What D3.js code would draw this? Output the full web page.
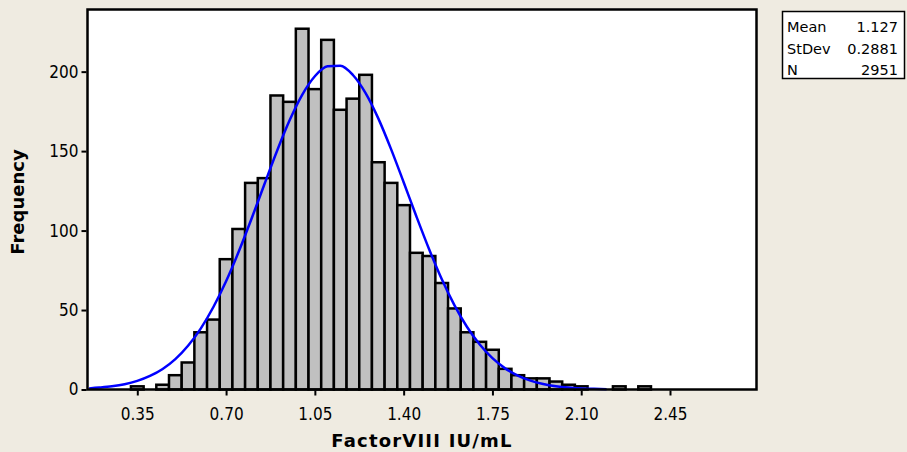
<!DOCTYPE html>
<html lang="en">
<head>
<meta charset="UTF-8">
<title>FactorVIII histogram</title>
<script src="https://d3js.org/d3.v7.min.js"></script>
<style>
body { margin: 0; background: #efebe1; }
svg { display: block; }
.tick text { font-family: "DejaVu Sans Condensed", "DejaVu Sans", sans-serif; font-size: 17px; fill: #000; }
.title { font-family: "DejaVu Sans", sans-serif; font-weight: bold; font-size: 18px; }
.stats { font-family: "DejaVu Sans", sans-serif; font-size: 14.5px; }
</style>
</head>
<body>
<div id="chart"></div>
<script>

// bin midpoints (width 0.05) and counts
var binMids = [0.35, 0.40, 0.45, 0.50, 0.55, 0.60, 0.65, 0.70, 0.75, 0.80,
               0.85, 0.90, 0.95, 1.00, 1.05, 1.10, 1.15, 1.20, 1.25, 1.30,
               1.35, 1.40, 1.45, 1.50, 1.55, 1.60, 1.65, 1.70, 1.75, 1.80,
               1.85, 1.90, 1.95, 2.00, 2.05, 2.10, 2.15, 2.20, 2.25, 2.30, 2.35];
var counts  = [2, 0, 3, 9, 17, 36, 44, 82, 101, 130,
               133, 185, 181, 227, 189, 220, 176, 183, 198, 143,
               130, 116, 86, 84, 67, 51, 36, 30, 25, 13,
               9, 7, 7, 5, 3, 2, 0, 0, 2, 0, 2];
var binWidth = 0.05;

// fitted normal curve (blue)
var curveX = [0.16, 0.20, 0.25, 0.30, 0.35, 0.40, 0.45, 0.50, 0.55, 0.60,
              0.65, 0.70, 0.75, 0.80, 0.85, 0.90, 0.95, 1.00, 1.05, 1.10,
              1.15, 1.20, 1.25, 1.30, 1.35, 1.40, 1.45, 1.50, 1.55, 1.60,
              1.65, 1.70, 1.75, 1.80, 1.85, 1.90, 1.95, 2.00, 2.05, 2.10,
              2.15, 2.20];
var curveY = [0.7, 1.2, 2.0, 3.3, 5.4, 8.5, 12.9, 19.1, 27.5, 38.3,
              51.9, 68.1, 86.8, 107.3, 128.7, 149.8, 169.2, 185.4, 197.1, 203.4,
              203.7, 197.9, 186.5, 170.6, 151.4, 130.4, 109.0, 88.4, 69.5, 53.1,
              39.3, 28.3, 19.7, 13.3, 8.8, 5.6, 3.5, 2.1, 1.2, 0.7,
              0.4, 0.2];

var xTicks = [0.35, 0.70, 1.05, 1.40, 1.75, 2.10, 2.45];
var yTicks = [0, 50, 100, 150, 200];

var statLabels = ["Mean", "StDev", "N"];
var statValues = ["1.127", "0.2881", "2951"];

var W = 907, H = 452;
var plot = {left: 87.5, top: 9.5, right: 756.5, bottom: 389.5};

var x = d3.scaleLinear().domain([0.1537, 2.791]).range([plot.left, plot.right]);
var y = d3.scaleLinear().domain([0, 239.1]).range([plot.bottom, plot.top]);

var svg = d3.select("#chart").append("svg")
    .attr("width", W)
    .attr("height", H);

svg.append("rect")
    .attr("width", W).attr("height", H)
    .attr("fill", "#efebe1");

// plot area
svg.append("rect")
    .attr("x", plot.left).attr("y", plot.top)
    .attr("width", plot.right - plot.left)
    .attr("height", plot.bottom - plot.top)
    .attr("fill", "#fff");

var bins = binMids.map(function(m, i) { return {mid: m, n: counts[i]}; })
    .filter(function(d) { return d.n > 0; });

svg.selectAll(".bar")
    .data(bins)
    .enter().append("rect")
    .attr("class", "bar")
    .attr("x", function(d) { return x(d.mid - binWidth / 2); })
    .attr("width", function(d) { return x(d.mid + binWidth / 2) - x(d.mid - binWidth / 2); })
    .attr("y", function(d) { return y(d.n); })
    .attr("height", function(d) { return y(0) - y(d.n); })
    .attr("fill", "#c0c0c0")
    .attr("stroke", "#000")
    .attr("stroke-width", 2.5);

var line = d3.line()
    .x(function(d, i) { return x(curveX[i]); })
    .y(function(d) { return y(d); })
    .curve(d3.curveMonotoneX);

svg.append("path")
    .datum(curveY)
    .attr("d", line)
    .attr("fill", "none")
    .attr("stroke", "#0000ff")
    .attr("stroke-width", 2.5);

// frame
svg.append("rect")
    .attr("x", plot.left).attr("y", plot.top)
    .attr("width", plot.right - plot.left)
    .attr("height", plot.bottom - plot.top)
    .attr("fill", "none")
    .attr("stroke", "#000")
    .attr("stroke-width", 2.5);

// axes
var xAxis = svg.append("g")
    .attr("transform", "translate(0," + (plot.bottom + 1) + ")")
    .call(d3.axisBottom(x).tickValues(xTicks).tickFormat(d3.format(".2f")).tickSize(5).tickPadding(12));
var yAxis = svg.append("g")
    .attr("transform", "translate(" + (plot.left - 1) + ",0)")
    .call(d3.axisLeft(y).tickValues(yTicks).tickSize(5).tickPadding(3));

[xAxis, yAxis].forEach(function(g) {
    g.select(".domain").remove();
    g.selectAll(".tick line").attr("stroke", "#000").attr("stroke-width", 2);
    g.attr("font-family", null).attr("font-size", null);
});

svg.append("text")
    .attr("class", "title")
    .attr("x", (plot.left + plot.right) / 2)
    .attr("y", 447)
    .attr("text-anchor", "middle")
    .attr("letter-spacing", 1.2)
    .text("FactorVIII IU/mL");

svg.append("text")
    .attr("class", "title")
    .attr("transform", "translate(24,202) rotate(-90)")
    .attr("text-anchor", "middle")
    .text("Frequency");

// stats box
var box = svg.append("g");
box.append("rect")
    .attr("x", 782.5).attr("y", 11.5)
    .attr("width", 122).attr("height", 67)
    .attr("fill", "#fff")
    .attr("stroke", "#000")
    .attr("stroke-width", 1.5);

box.selectAll(".slab")
    .data(statLabels)
    .enter().append("text")
    .attr("class", "stats")
    .attr("x", 787)
    .attr("y", function(d, i) { return 32 + i * 21.5; })
    .text(function(d) { return d; });

box.selectAll(".sval")
    .data(statValues)
    .enter().append("text")
    .attr("class", "stats")
    .attr("x", 898)
    .attr("y", function(d, i) { return 32 + i * 21.5; })
    .attr("text-anchor", "end")
    .text(function(d) { return d; });

</script>
</body>
</html>
